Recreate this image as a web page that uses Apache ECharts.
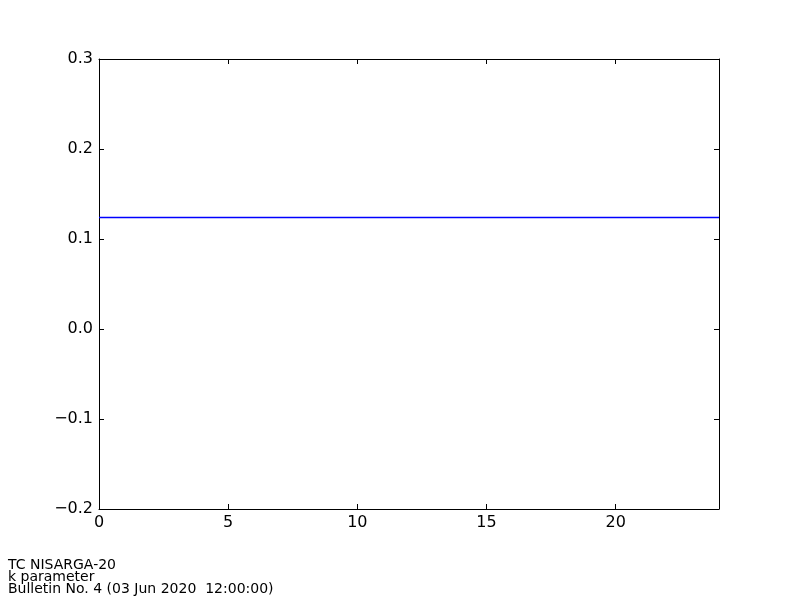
<!DOCTYPE html>
<html>
<head>
<meta charset="utf-8">
<script src="https://cdn.jsdelivr.net/npm/echarts@6/dist/echarts.min.js"></script>
<style>
html,body{margin:0;padding:0;background:#fff;}
#chart{width:800px;height:600px;}
</style>
</head>
<body>
<div id="chart"></div>
<script>
const hours = [0,1,2,3,4,5,6,7,8,9,10,11,12,13,14,15,16,17,18,19,20,21,22,23,24];
const kValues = [0.1239,0.1239,0.1239,0.1239,0.1239,0.1239,0.1239,0.1239,0.1239,0.1239,0.1239,0.1239,0.1239,0.1239,0.1239,0.1239,0.1239,0.1239,0.1239,0.1239,0.1239,0.1239,0.1239,0.1239,0.1239];
const footerLines = ['TC NISARGA-20', 'k parameter', 'Bulletin No. 4 (03 Jun 2020  12:00:00)'];

const chart = echarts.init(document.getElementById('chart'), null, {renderer: 'canvas'});
const fmtY = v => v.toFixed(1).replace('-', '\u2212');
const axisStyle = {show: true, onZero: false, lineStyle: {color: '#000', width: 1}};
const tickStyle = {show: true, inside: true, length: 5, lineStyle: {color: '#000', width: 1}};
chart.setOption({
  animation: false,
  backgroundColor: '#fff',
  color: ['#0000ff'],
  grid: {left: 99, top: 59, right: 81, bottom: 91, containLabel: false},
  xAxis: [
    {type: 'value', min: 0, max: 24, interval: 5, position: 'bottom',
     axisLine: axisStyle, axisTick: tickStyle, splitLine: {show: false},
     axisLabel: {color: '#000', fontSize: 16, fontFamily: 'DejaVu Sans', margin: 6, showMaxLabel: false}},
    {type: 'value', min: 0, max: 24, interval: 5, position: 'top',
     axisLine: axisStyle, axisTick: tickStyle, splitLine: {show: false},
     axisLabel: {show: false}}
  ],
  yAxis: [
    {type: 'value', min: -0.2, max: 0.3, interval: 0.1, position: 'left',
     axisLine: axisStyle, axisTick: tickStyle, splitLine: {show: false},
     axisLabel: {color: '#000', fontSize: 16, fontFamily: 'DejaVu Sans', margin: 6, formatter: v => fmtY(v) }},
    {type: 'value', min: -0.2, max: 0.3, interval: 0.1, position: 'right',
     axisLine: axisStyle, axisTick: tickStyle, splitLine: {show: false},
     axisLabel: {show: false}}
  ],
  series: [{
    type: 'line',
    z: 10,
    data: hours.map((h, i) => [h, kValues[i]]),
    showSymbol: false,
    lineStyle: {color: 'rgb(0,0,255)', width: 1.5},
    itemStyle: {color: 'rgb(0,0,255)'}
  }],
  graphic: [{
    type: 'text', left: 8, top: 558,
    style: {text: footerLines.join('\n'), font: '14px "DejaVu Sans"', fill: '#000', lineHeight: 12}
  }]
});
</script>
</body>
</html>
